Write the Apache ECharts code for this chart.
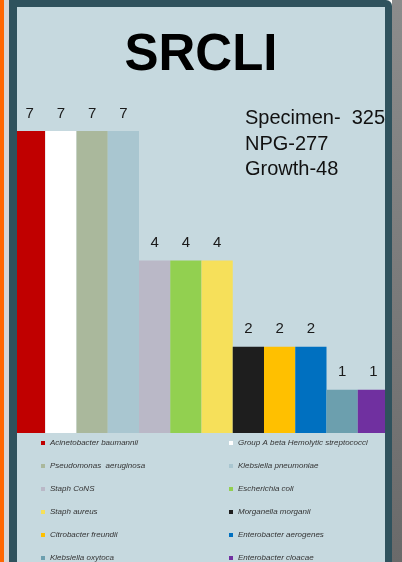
<!DOCTYPE html>
<html>
<head>
<meta charset="utf-8">
<script src="https://cdn.jsdelivr.net/npm/echarts@6/dist/echarts.min.js"></script>
<style>
  html, body { margin: 0; padding: 0; background: #ffffff; }
  #chart { width: 402px; height: 562px; }
</style>
</head>
<body>
<div id="chart"></div>
<script>
// Isolates grown, with their counts
const organisms = [
  'Acinetobacter baumannii',
  'Group A beta Hemolytic streptococci',
  'Pseudomonas  aeruginosa',
  'Klebsiella pneumoniae',
  'Staph CoNS',
  'Escherichia coli',
  'Staph aureus',
  'Morganella morganii',
  'Citrobacter freundii',
  'Enterobacter aerogenes',
  'Klebsiella oxytoca',
  'Enterobacter cloacae'
];
const counts = [7, 7, 7, 7, 4, 4, 4, 2, 2, 2, 1, 1];
const palette = [
  '#C00000', '#FFFFFF', '#AAB89C', '#A9C6D0', '#BAB8C7', '#92D050',
  '#F6E05A', '#1E1E1E', '#FFC000', '#0070C0', '#6C9FAE', '#7030A0'
];
const summaryLines = ['Specimen-  325', 'NPG-277', 'Growth-48'];
const categories = ['Isolates'];

const chart = echarts.init(document.getElementById('chart'), null, { renderer: 'canvas' });

const series = organisms.map((name, i) => ({
  name: name,
  type: 'bar',
  data: [counts[i]],
  barGap: '0%',
  barCategoryGap: '0%',
  itemStyle: { color: palette[i] },
  label: {
    show: true,
    position: 'top',
    distance: 10,
    fontSize: 15,
    fontFamily: 'Liberation Sans, Arial, sans-serif',
    color: '#1a1a1a'
  },
  emphasis: { disabled: true },
  z: 2
}));

// legend in two columns, alternating entries
const leftCol = organisms.filter((_, i) => i % 2 === 0);
const rightCol = organisms.filter((_, i) => i % 2 === 1);
const legendBase = {
  orient: 'vertical',
  top: 433,
  height: 160,
  itemWidth: 4,
  itemHeight: 4,
  itemGap: 13,
  icon: 'rect',
  selectedMode: false,
  textStyle: {
    fontSize: 8,
    lineHeight: 10,
    fontStyle: 'italic',
    fontFamily: 'Liberation Sans, Arial, sans-serif',
    color: '#333333'
  }
};

const option = {
  animation: false,
  backgroundColor: '#ffffff',
  title: {
    text: 'SRCLI',
    left: 'center',
    top: 25,
    textStyle: {
      fontSize: 51,
      fontWeight: 'bold',
      fontFamily: 'Liberation Sans, Arial, sans-serif',
      color: '#000000'
    }
  },
  legend: [
    Object.assign({}, legendBase, { left: 36, data: leftCol }),
    Object.assign({}, legendBase, { left: 224, data: rightCol })
  ],
  grid: { left: 14, right: 13, top: 131, bottom: 129 },
  xAxis: {
    type: 'category',
    data: categories,
    show: false
  },
  yAxis: {
    type: 'value',
    min: 0,
    max: 7,
    show: false
  },
  graphic: [
    // outer strips
    { type: 'rect', shape: { x: 0, y: 0, width: 4, height: 562 }, style: { fill: '#FF6600' }, z: -20 },
    { type: 'rect', shape: { x: 4, y: 0, width: 5, height: 562 }, style: { fill: '#D6D6D6' }, z: -20 },
    { type: 'rect', shape: { x: 392, y: 0, width: 10, height: 562 },
      style: { fill: new echarts.graphic.LinearGradient(0, 0, 0, 1, [
        { offset: 0, color: '#8C8C8C' }, { offset: 1, color: '#6A6A6A' }]) }, z: -20 },
    // panel
    { type: 'rect', shape: { x: 9, y: 0, width: 383, height: 580, r: [0, 6, 0, 0] }, style: { fill: '#2F525D' }, z: -10 },
    { type: 'rect', shape: { x: 17, y: 7, width: 368, height: 560 }, style: { fill: '#C6D9DF' }, z: -5 },
    // summary text
    {
      type: 'text',
      left: 245,
      top: 106,
      z: 5,
      style: {
        text: summaryLines.join('\n'),
        fontSize: 20,
        lineHeight: 25.5,
        fontFamily: 'Liberation Sans, Arial, sans-serif',
        fill: '#111111'
      }
    },
    // border drawn over the bars
    { type: 'rect', shape: { x: 9, y: 7, width: 8, height: 560 }, style: { fill: '#2F525D' }, z: 100 },
    { type: 'rect', shape: { x: 385, y: 7, width: 7, height: 560 }, style: { fill: '#2F525D' }, z: 100 }
  ],
  series: series
};

chart.setOption(option);
</script>
</body>
</html>
